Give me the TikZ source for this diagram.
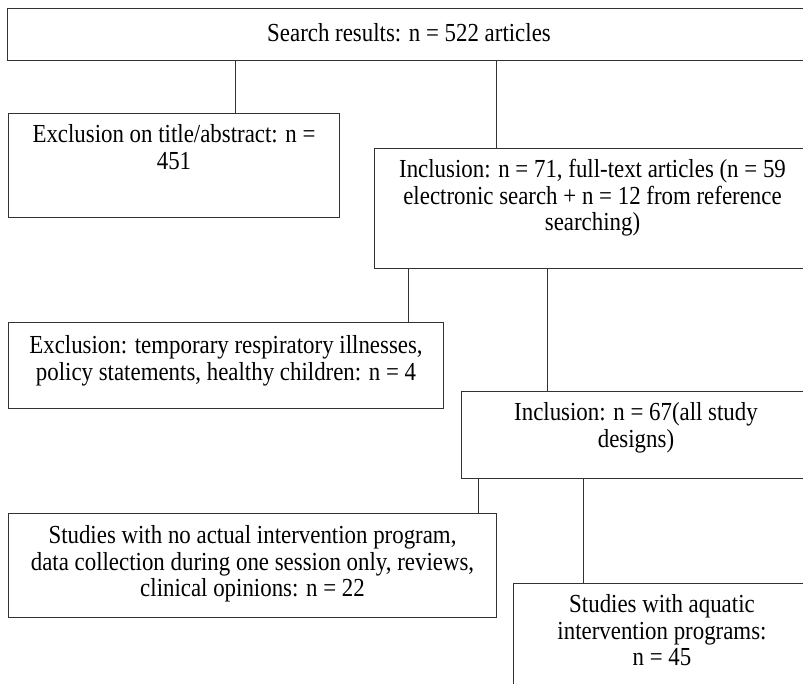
\documentclass[tikz,border=0pt]{standalone}
\usepackage{fontspec}
\setmainfont{Liberation Serif}[FakeStretch=0.88]
\newcommand{\boxtxt}[4]{\parbox[c][#2][t]{#1}{\centering\vspace*{#3}#4}}
\tikzset{flowbox/.style={draw=black!80,line width=1pt,inner sep=0pt,anchor=north west,
    font=\fontsize{26}{26.5}\selectfont},
  link/.style={draw=black!80,line width=1pt}}
\begin{document}
\begin{tikzpicture}[x=1pt,y=-1pt]
	\useasboundingbox (0,0) rectangle (803,683);
	\clip (0,0) rectangle (803,683);
	\node[flowbox] (search) at (7,8) {\boxtxt{803pt}{52pt}{15pt}{Search results: n = 522 articles}};
	\node[flowbox] (excltitle) at (8,113) {\boxtxt{331pt}{104pt}{11pt}{Exclusion on title/abstract: n =\\451}};
	\node[flowbox] (inclfull) at (374,148) {\boxtxt{436pt}{120pt}{11pt}{Inclusion: n = 71, full-text articles (n = 59\\electronic search + n = 12 from reference\\searching)}};
	\node[flowbox] (excltemp) at (8,322) {\boxtxt{435pt}{86pt}{13pt}{Exclusion: temporary respiratory illnesses,\\policy statements, healthy children: n = 4}};
	\node[flowbox] (inclall) at (461,391) {\boxtxt{349pt}{87pt}{11pt}{Inclusion: n = 67(all study\\designs)}};
	\node[flowbox] (exclnoprog) at (8,513) {\boxtxt{488pt}{104pt}{12pt}{Studies with no actual intervention program,\\data collection during one session only, reviews,\\clinical opinions: n = 22}};
	\node[flowbox] (aquatic) at (513,583) {\boxtxt{297pt}{120pt}{11pt}{Studies with aquatic\\intervention programs:\\n = 45}};
	\coordinate (xa) at (235,0);
	\coordinate (xb) at (496,0);
	\coordinate (xc) at (408,0);
	\coordinate (xd) at (547,0);
	\coordinate (xe) at (478,0);
	\coordinate (xf) at (583,0);
	\draw[link] (search.south -| xa) -- (excltitle.north -| xa);
	\draw[link] (search.south -| xb) -- (inclfull.north -| xb);
	\draw[link] (inclfull.south -| xc) -- (excltemp.north -| xc);
	\draw[link] (inclfull.south -| xd) -- (inclall.north -| xd);
	\draw[link] (inclall.south -| xe) -- (exclnoprog.north -| xe);
	\draw[link] (inclall.south -| xf) -- (aquatic.north -| xf);
\end{tikzpicture}
\end{document}
